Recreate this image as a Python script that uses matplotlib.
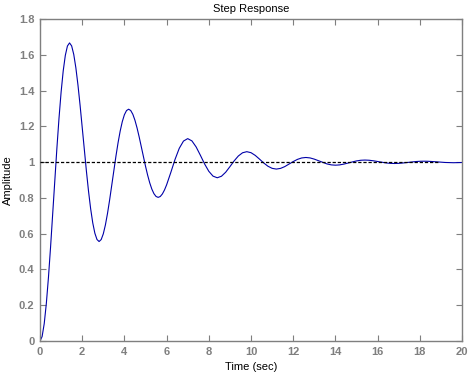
import matplotlib
matplotlib.use("Agg")
import matplotlib.pyplot as plt
from matplotlib.ticker import FuncFormatter

time_fine = [0.0, 0.1, 0.2, 0.3, 0.4, 0.5, 0.6, 0.7, 0.8, 0.9,
             1.0, 1.1, 1.2, 1.3, 1.4, 1.5, 1.6, 1.7, 1.8, 1.9,
             2.0, 2.1, 2.2, 2.3, 2.4, 2.5, 2.6, 2.7, 2.8, 2.9,
             3.0, 3.1, 3.2, 3.3, 3.4, 3.5, 3.6, 3.7, 3.8, 3.9,
             4.0, 4.1, 4.2, 4.3, 4.4, 4.5, 4.6, 4.7, 4.8, 4.9,
             5.0, 5.1, 5.2, 5.3, 5.4, 5.5, 5.6, 5.7, 5.8, 5.9]
amp_fine = [0.0000, 0.0250, 0.0969, 0.2095, 0.3548, 0.5240, 0.7072, 0.8945, 1.0766, 1.2445,
            1.3909, 1.5098, 1.5966, 1.6490, 1.6663, 1.6496, 1.6018, 1.5267, 1.4299, 1.3172,
            1.1951, 1.0703, 0.9490, 0.8371, 0.7395, 0.6603, 0.6025, 0.5676, 0.5560, 0.5671,
            0.5990, 0.6490, 0.7136, 0.7887, 0.8700, 0.9532, 1.0340, 1.1086, 1.1736, 1.2263,
            1.2649, 1.2881, 1.2958, 1.2884, 1.2672, 1.2339, 1.1909, 1.1408, 1.0866, 1.0312,
            0.9774, 0.9277, 0.8843, 0.8492, 0.8235, 0.8080, 0.8029, 0.8078, 0.8220, 0.8442]

time_coarse = [6.0, 6.2, 6.4, 6.6, 6.8, 7.0, 7.2, 7.4, 7.6, 7.8,
               8.0, 8.2, 8.4, 8.6, 8.8, 9.0, 9.2, 9.4, 9.6, 9.8,
               10.0, 10.2, 10.4, 10.6, 10.8, 11.0, 11.2, 11.4, 11.6, 11.8,
               12.0, 12.2, 12.4, 12.6, 12.8, 13.0, 13.2, 13.4, 13.6, 13.8,
               14.0, 14.2, 14.4, 14.6, 14.8, 15.0, 15.2, 15.4, 15.6, 15.8,
               16.0, 16.2, 16.4, 16.6, 16.8, 17.0, 17.2, 17.4, 17.6, 17.8,
               18.0, 18.2, 18.4, 18.6, 18.8, 19.0, 19.2, 19.4, 19.6, 19.8, 20.0]
amp_coarse = [0.8728, 0.9423, 1.0151, 1.0771, 1.1176, 1.1313, 1.1186, 1.0847, 1.0385, 0.9899,
              0.9487, 0.9216, 0.9125, 0.9210, 0.9435, 0.9744, 1.0067, 1.0342, 1.0522, 1.0583,
              1.0527, 1.0376, 1.0171, 0.9955, 0.9772, 0.9652, 0.9611, 0.9649, 0.9749, 0.9886,
              1.0030, 1.0152, 1.0232, 1.0259, 1.0234, 1.0167, 1.0076, 0.9980, 0.9899, 0.9846,
              0.9828, 0.9844, 0.9889, 0.9949, 1.0013, 1.0067, 1.0103, 1.0115, 1.0104, 1.0074,
              1.0034, 0.9991, 0.9955, 0.9931, 0.9923, 0.9931, 0.9951, 0.9978, 1.0006, 1.0030,
              1.0046, 1.0051, 1.0046, 1.0033, 1.0015, 0.9996, 0.9980, 0.9970, 0.9966, 0.9969, 0.9978]

steady_state = 1.0
steady_span = [0.0, 18.9]

x_ticks = [0, 2, 4, 6, 8, 10, 12, 14, 16, 18, 20]
y_ticks = [0, 0.2, 0.4, 0.6, 0.8, 1.0, 1.2, 1.4, 1.6, 1.8]

title_text = "Step Response"
x_label = "Time (sec)"
y_label = "Amplitude"

plt.rcParams['font.family'] = ['Liberation Sans', 'DejaVu Sans']

fig = plt.figure(figsize=(4.71, 3.77), dpi=100)
ax = fig.add_axes([40 / 471, 36 / 377, 422 / 471, 322 / 377])

times = time_fine + time_coarse
amps = amp_fine + amp_coarse

ax.plot(steady_span, [steady_state, steady_state], color='black', lw=0.9,
        linestyle=(0, (2.6, 1.5)), zorder=3)
ax.plot(times, amps, color='#0000a8', lw=0.8, zorder=2)

ax.set_xlim(0, 20)
ax.set_ylim(0, 1.8)
ax.set_xticks(x_ticks)
ax.set_yticks(y_ticks)
ax.xaxis.set_major_formatter(FuncFormatter(lambda v, p: f"{v:g}"))
ax.yaxis.set_major_formatter(FuncFormatter(lambda v, p: f"{v:g}"))

gray = '#7f7f7f'
for s in ax.spines.values():
    s.set_color(gray)
    s.set_linewidth(1.0)
ax.tick_params(direction='in', length=4, width=0.8, color=gray,
               top=True, right=True, labelcolor=gray, labelsize=8, pad=4)
for lab in ax.get_xticklabels() + ax.get_yticklabels():
    lab.set_fontweight('bold')

ax.set_title(title_text, fontsize=8, color='black', pad=5)
ax.set_xlabel(x_label, fontsize=8, color='black', labelpad=4)
ax.set_ylabel(y_label, fontsize=8, color='black', labelpad=4)

fig.savefig("out.png", dpi=100, facecolor='white')
